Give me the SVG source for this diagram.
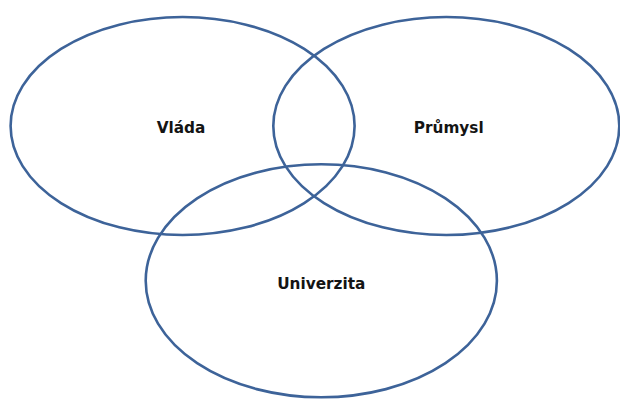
<svg xmlns="http://www.w3.org/2000/svg" width="620" height="399" viewBox="0 0 620 399">
<style>
.c{fill:none;stroke:#3d6399;stroke-width:2.6}
.t{font-family:"DejaVu Sans",Verdana,sans-serif;font-weight:bold;font-size:15.3px;fill:#141414;text-anchor:middle}
</style>
<rect width="620" height="399" fill="#ffffff"/>
<g id="vlada">
<ellipse class="c" cx="182.6" cy="126" rx="172" ry="109"/>
<text class="t" x="181" y="132.7">Vláda</text>
</g>
<g id="prumysl">
<ellipse class="c" cx="446.3" cy="126" rx="173" ry="109"/>
<text class="t" x="448.7" y="133.3">Průmysl</text>
</g>
<g id="univerzita">
<ellipse class="c" cx="321.3" cy="280.8" rx="175.6" ry="116.5"/>
<text class="t" x="321.3" y="289.3">Univerzita</text>
</g>
<g id="connectors"/>
</svg>
